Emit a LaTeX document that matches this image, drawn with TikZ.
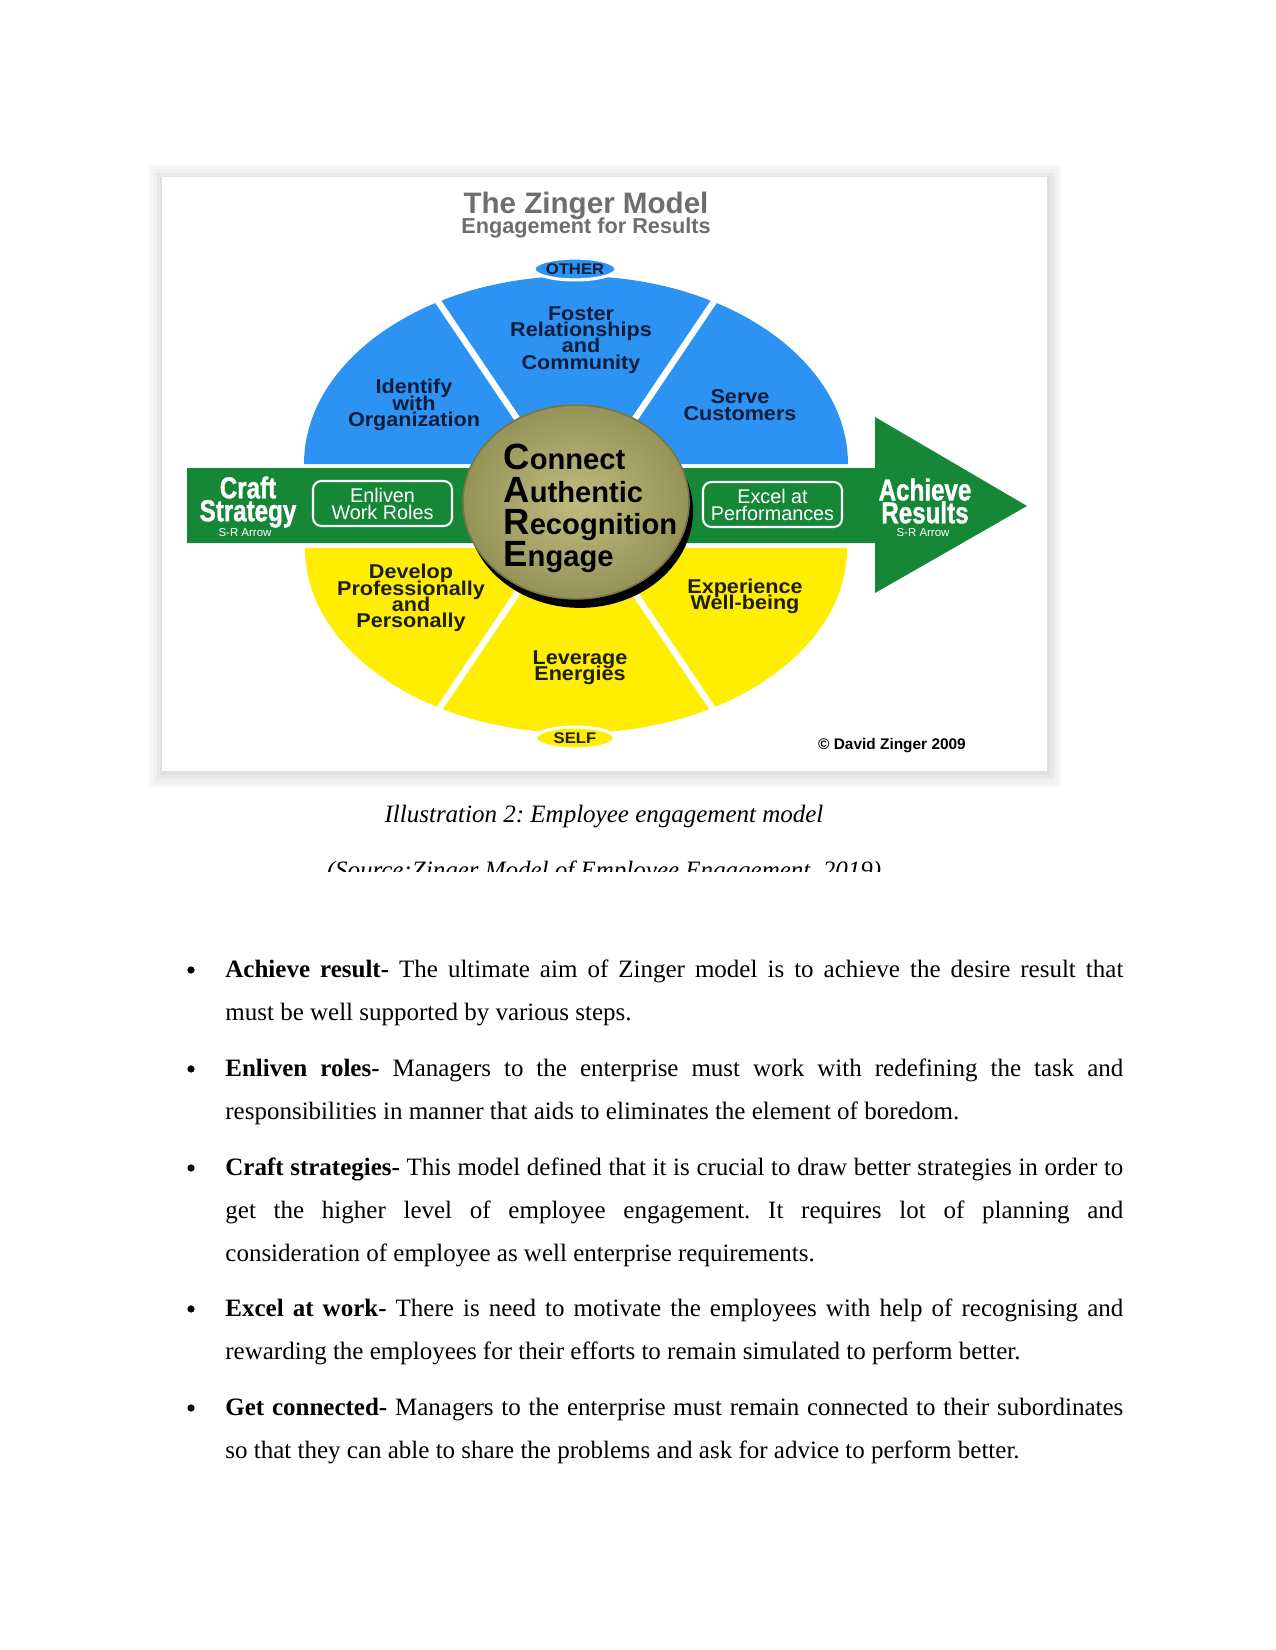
\documentclass[tikz,border=0pt]{standalone}
\usepackage{fontspec}
\setmainfont{Liberation Serif}
\newfontfamily\zsans{Liberation Sans}
\newfontfamily\zwide{Liberation Sans}[FakeStretch=1.08]
\newfontfamily\zcond{Liberation Sans}[FakeStretch=0.8,FakeBold=1.2]
\usetikzlibrary{shapes.geometric}
\definecolor{zblue}{RGB}{45,147,242}
\definecolor{zyellow}{RGB}{255,238,0}
\definecolor{zgreen}{RGB}{22,135,55}
\definecolor{znavy}{RGB}{15,28,60}
\definecolor{zdark}{RGB}{30,30,20}
\definecolor{zgray}{RGB}{110,110,110}
\definecolor{zolivelt}{RGB}{192,188,128}
\definecolor{zolivedk}{RGB}{150,147,88}
\lineskiplimit=-20pt
\tolerance=10000
\hyphenpenalty=10000
\frenchspacing
\begin{document}
\begin{tikzpicture}[x=0.48pt,y=-0.48pt,
  sector/.style={text=znavy, align=center, inner sep=0pt, font=\zwide\bfseries\fontsize{9.6}{7.8}\selectfont},
  selflabel/.style={sector, text=zdark},
  rolebox/.style={draw=white, line width=1pt, rounded corners=4pt, text=white, align=center, minimum width=66.7pt, minimum height=21.6pt, inner sep=0pt, font=\zsans\fontsize{9.5}{8.2}\selectfont},
  bigword/.style={text=white, align=center, inner sep=0pt, font=\zcond\bfseries\fontsize{14.5}{11}\selectfont},
  srtag/.style={text=white, inner sep=0pt, font=\zsans\fontsize{5.5}{6}\selectfont},
  polelabel/.style={ellipse, draw=white, line width=1.5pt, minimum width=38pt, minimum height=10.5pt, inner sep=0pt, text=znavy, font=\zwide\bfseries\fontsize{7.4}{8}\selectfont},
  careline/.style={anchor=base west, inner sep=0pt, font=\zsans\bfseries\fontsize{14}{14}\selectfont},
  divider/.style={white, line width=3pt},
  bodytext/.style={anchor=base west, inner sep=0pt, text width=431pt, align=justify, font=\fontsize{12}{20.64}\selectfont},
  bulletmark/.style={circle, fill=black, inner sep=0pt, minimum size=3.5pt}
]
\useasboundingbox (0,0) rectangle (1275,1650);
\fill[white] (0,0) rectangle (1275,1650);

% figure frame
\fill[black!3] (149,165) rectangle (1061,787);
\fill[black!6] (153,169) rectangle (1058,784);
\fill[black!9] (157,173) rectangle (1054,779);
\fill[black!12] (160,176) rectangle (1050,775);
\fill[white] (162,177) rectangle (1047,771);

\node[text=zgray, inner sep=0pt, font=\zsans\bfseries\fontsize{14.2}{15}\selectfont] (title) at (586,206) {The Zinger Model};
\node[text=zgray, inner sep=0pt, font=\zsans\bfseries\fontsize{10.4}{11}\selectfont] (subtitle) at (586,228) {Engagement for Results};

% two halves and the arrow
\fill[zblue] (304,464) arc[start angle=180, end angle=360, x radius=272, y radius=188] -- cycle;
\fill[zyellow] (305,548) arc[start angle=180, end angle=0, x radius=271, y radius=185] -- cycle;
\fill[zgreen] (187,468) -- (875,468) -- (875,417) -- (1027,506) -- (875,593) -- (875,543) -- (187,543) -- cycle;

\coordinate (ctr) at (576,506);
\draw[divider] (ctr) -- ++(-124:280);
\draw[divider] (ctr) -- ++(-56:280);
\draw[divider] (ctr) -- ++(124:280);
\draw[divider] (ctr) -- ++(56:280);

\node[polelabel, fill=zblue] (other) at (575,269) {OTHER};
\node[polelabel, fill=zyellow, text=zdark] (self) at (575,738) {SELF};

\node[sector] (identify) at (414,405) {Identify\\with\\Organization};
\node[sector] (foster) at (581,340) {Foster\\Relationships\\and\\Community};
\node[sector] (serve) at (740,405) {Serve\\Customers};
\node[selflabel] (develop) at (411,598) {Develop\\Professionally\\and\\Personally};
\node[selflabel] (leverage) at (580,668) {Leverage\\Energies};
\node[selflabel] (wellbeing) at (745,596) {Experience\\Well-being};

\node[bigword] (craft) at (248,502) {Craft\\Strategy};
\node[srtag] (srleft) at (245,533) {S-R Arrow};
\node[rolebox] (enliven) at (382.5,503.5) {Enliven\\Work Roles};
\node[rolebox] (excel) at (772.5,504.5) {Excel at\\Performances};
\node[bigword] (achieve) at (925,501) {Achieve\\Results};
\node[srtag] (srright) at (923,533) {S-R Arrow};

% CARE disc
\node[ellipse, fill=black, minimum width=108.5pt, minimum height=93pt, inner sep=0pt] (careshadow) at (580,511) {};
\node[ellipse, shading=radial, inner color=zolivelt, outer color=zolivedk, draw=zolivedk!80!black, line width=0.8pt, minimum width=108.5pt, minimum height=93pt, inner sep=0pt] (care) at (576,502) {};
\node[careline] (connect) at (503,469) {{\fontsize{17.5}{18}\selectfont C}onnect};
\node[careline] (authentic) at (503,502) {{\fontsize{17.5}{18}\selectfont A}uthentic};
\node[careline] (recognition) at (503,534) {{\fontsize{17.5}{18}\selectfont R}ecognition};
\node[careline] (engage) at (503,566) {{\fontsize{17.5}{18}\selectfont E}ngage};

\node[text=black, inner sep=0pt, font=\zsans\bfseries\fontsize{7.4}{8}\selectfont] (copy) at (892,746) {© David Zinger 2009};

% caption
\node[anchor=base, inner sep=0pt, font=\itshape\fontsize{12}{14}\selectfont] (caption) at (604,822) {Illustration 2: Employee engagement model};
\begin{scope}
\clip (0,840) rectangle (1275,871);
\node[anchor=base, inner sep=0pt, font=\itshape\fontsize{12}{14}\selectfont] (source) at (604,878) {(Source:Zinger Model of Employee Engagement, 2019)};
\end{scope}

% bullet list
\node[bulletmark] (b1) at (191,970) {};
\node[bodytext] (p1) at (225,977) {\textbf{Achieve result-} The ultimate aim of Zinger model is to achieve the desire result that\linebreak must be well supported by various steps.};
\node[bulletmark] (b2) at (191,1069) {};
\node[bodytext] (p2) at (225,1076) {\textbf{Enliven roles-} Managers to the enterprise must work with redefining the task and\linebreak responsibilities in manner that aids to eliminates the element of boredom.};
\node[bulletmark] (b3) at (191,1168) {};
\node[bodytext] (p3) at (225,1175) {\textbf{Craft strategies-} This model defined that it is crucial to draw better strategies in order to\linebreak get the higher level of employee engagement. It requires lot of planning and\linebreak consideration of employee as well enterprise requirements.};
\node[bulletmark] (b4) at (191,1309) {};
\node[bodytext] (p4) at (225,1316) {\textbf{Excel at work-} There is need to motivate the employees with help of recognising and\linebreak rewarding the employees for their efforts to remain simulated to perform better.};
\node[bulletmark] (b5) at (191,1408) {};
\node[bodytext] (p5) at (225,1415) {\textbf{Get connected-} Managers to the enterprise must remain connected to their subordinates\linebreak so that they can able to share the problems and ask for advice to perform better.};
\end{tikzpicture}
\end{document}
